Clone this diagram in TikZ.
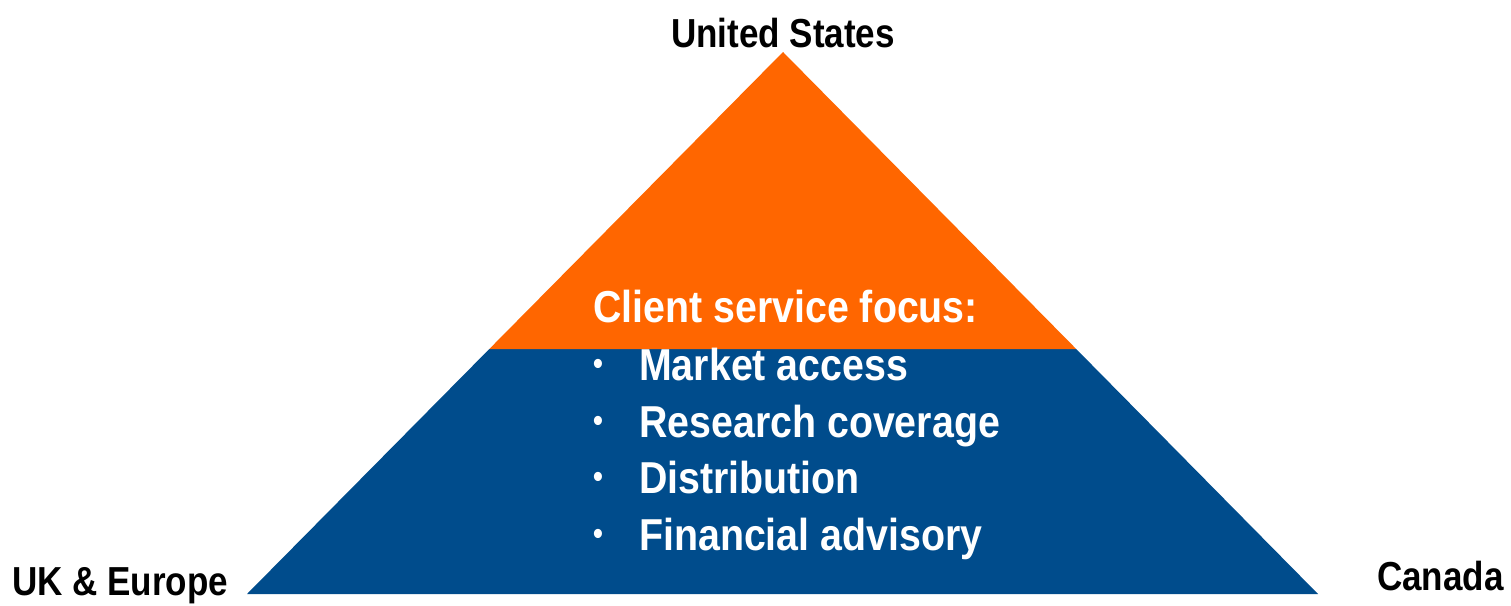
\documentclass[tikz,border=0pt]{standalone}
\usepackage{fontspec}
\setmainfont{Liberation Sans}[FakeStretch=0.865,BoldFont={Liberation Sans Bold}]
\newfontfamily\bodyfont{Liberation Sans Bold}[FakeStretch=0.88]
\definecolor{usorange}{HTML}{FF6600}
\definecolor{pyblue}{HTML}{004C8C}
\begin{document}
\begin{tikzpicture}[x=1pt,y=-1pt,
  lbl/.style={inner sep=0pt,anchor=base west,font=\bfseries\fontsize{40.5}{48}\selectfont,text=black},
  body/.style={inner sep=0pt,anchor=base west,font=\bodyfont\fontsize{44.7}{57}\selectfont,text=white},
  bul/.style={inner sep=0pt,anchor=center,font=\bodyfont\fontsize{32}{36}\selectfont,text=white}]
\useasboundingbox (0,0) rectangle (1511,605);
\coordinate (apex) at (783,52);
\coordinate (bl) at (247,594);
\coordinate (br) at (1318,594);
\coordinate (sl) at (489.3,349);
\coordinate (sr) at (1076.2,349);
\fill[pyblue] (sl) -- (sr) -- (br) -- (bl) -- cycle;
\fill[usorange] (apex) -- (sr) -- (sl) -- cycle;
\node[lbl,anchor=base] (us) at (783,47) {United States};
\node[lbl] (uk) at (12,595) {UK \& Europe};
\node[lbl] (ca) at (1377,590) {Canada};
\node[body] (head) at (593,322) {Client service focus:};
\foreach \y/\t [count=\i] in {380/Market access,437/Research coverage,493/Distribution,550/Financial advisory}{
  \node[bul] (b\i) at (598,\y-13) {•};
  \node[body] (t\i) at (639,\y) {\t};
}
\end{tikzpicture}
\end{document}
